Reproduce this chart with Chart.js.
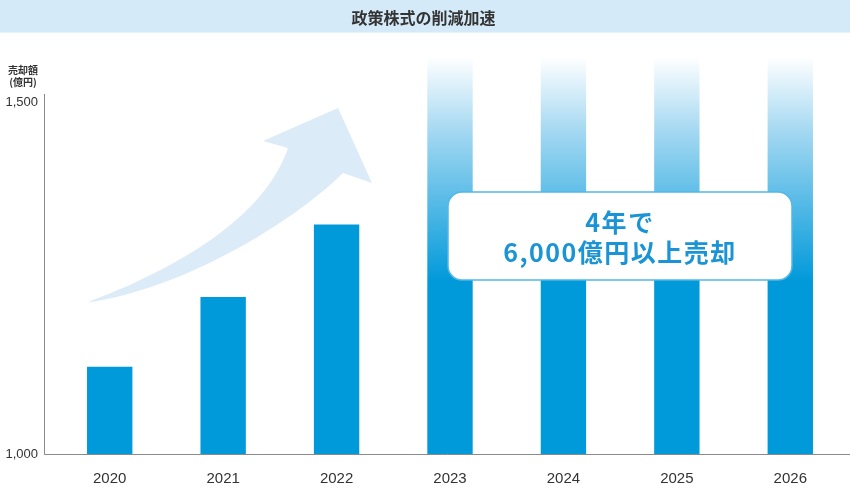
<!DOCTYPE html>
<html lang="ja">
<head>
<meta charset="utf-8">
<title>政策株式の削減加速</title>
<script src="https://cdn.jsdelivr.net/npm/chart.js@4"></script>
<style>
    html, body { margin: 0; padding: 0; background: #fff; }
    #wrap { width: 850px; height: 489px; }
</style>
</head>
<body>
<div id="wrap"><canvas id="sales-chart" width="850" height="489"></canvas></div>
<script>
// Chart data
const years = ['2020', '2021', '2022', '2023', '2024', '2025', '2026'];
const actualSales = [1124, 1223, 1326, null, null, null, null];
const plannedSales = [null, null, null, 1564, 1564, 1564, 1564];
const yTickValues = [1000, 1500];
const yMin = 1000;
const yMax = 1564;

const chartTitle = '政策株式の削減加速';
const yAxisTitle = ['売却額', '(億円)'];
const calloutLines = ['4年で', '6,000億円以上売却'];

const BLUE = '#0099da';
const CJK = '"Noto Sans CJK JP", "Noto Sans", sans-serif';
const LATIN = '"Liberation Sans", Arial, sans-serif';

// Gradient for the planned bars (white at top -> solid blue)
function plannedGradient(context) {
    const chart = context.chart;
    const area = chart.chartArea;
    if (!area) return BLUE;
    const g = chart.ctx.createLinearGradient(0, area.top, 0, area.top + 225);
    g.addColorStop(0, 'rgba(255,255,255,1)');
    g.addColorStop(0.35, '#9fd6f1');
    g.addColorStop(1, BLUE);
    return g;
}

// Title bar, arrow, axis lines, callout box
const decorations = {
    id: 'decorations',
    beforeDraw(chart) {
        const ctx = chart.ctx;
        ctx.save();
        ctx.fillStyle = '#d4eaf8';
        ctx.fillRect(0, 0, chart.width, 32);
        ctx.fillStyle = '#e6f3fb';
        ctx.fillRect(0, 32, chart.width, 1);
        ctx.restore();
    },
    beforeDatasetsDraw(chart) {
        const ctx = chart.ctx;
        ctx.save();
        // upward arrow
        ctx.fillStyle = '#dcebf8';
        ctx.beginPath();
        ctx.moveTo(87, 302.5);
        ctx.bezierCurveTo(160, 275, 262, 225, 288, 148);
        ctx.lineTo(263, 141);
        ctx.lineTo(338, 108);
        ctx.lineTo(372, 183);
        ctx.lineTo(343, 173);
        ctx.bezierCurveTo(290, 225, 180, 290, 87, 302.5);
        ctx.closePath();
        ctx.fill();

        // y-axis unit label
        ctx.fillStyle = '#333';
        ctx.font = 'bold 10px ' + CJK;
        ctx.textAlign = 'center';
        ctx.textBaseline = 'middle';
        ctx.fillText(yAxisTitle[0], 23, 70);
        ctx.fillText(yAxisTitle[1], 23, 82);
        ctx.restore();
    },
    afterDatasetsDraw(chart) {
        const ctx = chart.ctx;
        const area = chart.chartArea;
        ctx.save();
        // axis lines
        ctx.strokeStyle = '#8a8a8a';
        ctx.lineWidth = 1;
        ctx.beginPath();
        ctx.moveTo(44.5, 94);
        ctx.lineTo(44.5, area.bottom + 0.5);
        ctx.lineTo(chart.width, area.bottom + 0.5);
        ctx.stroke();

        // callout box
        ctx.fillStyle = '#fff';
        ctx.strokeStyle = '#52b8e6';
        ctx.lineWidth = 1.5;
        ctx.beginPath();
        ctx.roundRect(448, 192, 344, 88, 14);
        ctx.fill();
        ctx.stroke();

        ctx.fillStyle = '#1a94d4';
        ctx.font = 'bold 25px ' + CJK;
        ctx.letterSpacing = '1.5px';
        ctx.textAlign = 'center';
        ctx.textBaseline = 'middle';
        ctx.fillText(calloutLines[0], 620, 222);
        ctx.fillText(calloutLines[1], 620, 252);
        ctx.restore();
    }
};

const salesChart = new Chart(document.getElementById('sales-chart'), {
    type: 'bar',
    data: {
        labels: years,
        datasets: [{
            label: '売却額',
            data: actualSales,
            backgroundColor: BLUE,
            barPercentage: 0.4,
            categoryPercentage: 1,
            grouped: false
        }, {
            label: '計画',
            data: plannedSales,
            backgroundColor: plannedGradient,
            barPercentage: 0.4,
            categoryPercentage: 1,
            grouped: false
        }]
    },
    options: {
        responsive: false,
        animation: false,
        layout: { padding: { top: 0, right: 3, bottom: 0, left: 0 } },
        plugins: {
            legend: { display: false },
            tooltip: { enabled: false },
            title: {
                display: true,
                text: chartTitle,
                color: '#333',
                font: { family: CJK, size: 16, weight: 'bold', lineHeight: 1.2 },
                padding: { top: 8, bottom: 29.8 }
            }
        },
        scales: {
            x: {
                grid: { display: false, drawTicks: false },
                border: { display: false },
                afterFit: scale => {
                    scale.height = 35;
                },
                ticks: {
                    color: '#333',
                    font: { family: LATIN, size: 15 },
                    padding: 16
                }
            },
            y: {
                min: yMin,
                max: yMax,
                grid: { display: false, drawTicks: false },
                border: { display: false },
                afterBuildTicks: scale => {
                    scale.ticks = yTickValues.map(v => ({ value: v }));
                },
                afterFit: scale => {
                    scale.width = 53;
                },
                ticks: {
                    color: '#333',
                    font: { family: LATIN, size: 13 },
                    padding: 15,
                    callback: v => v.toLocaleString('en-US')
                }
            }
        }
    },
    plugins: [decorations]
});
</script>
</body>
</html>
